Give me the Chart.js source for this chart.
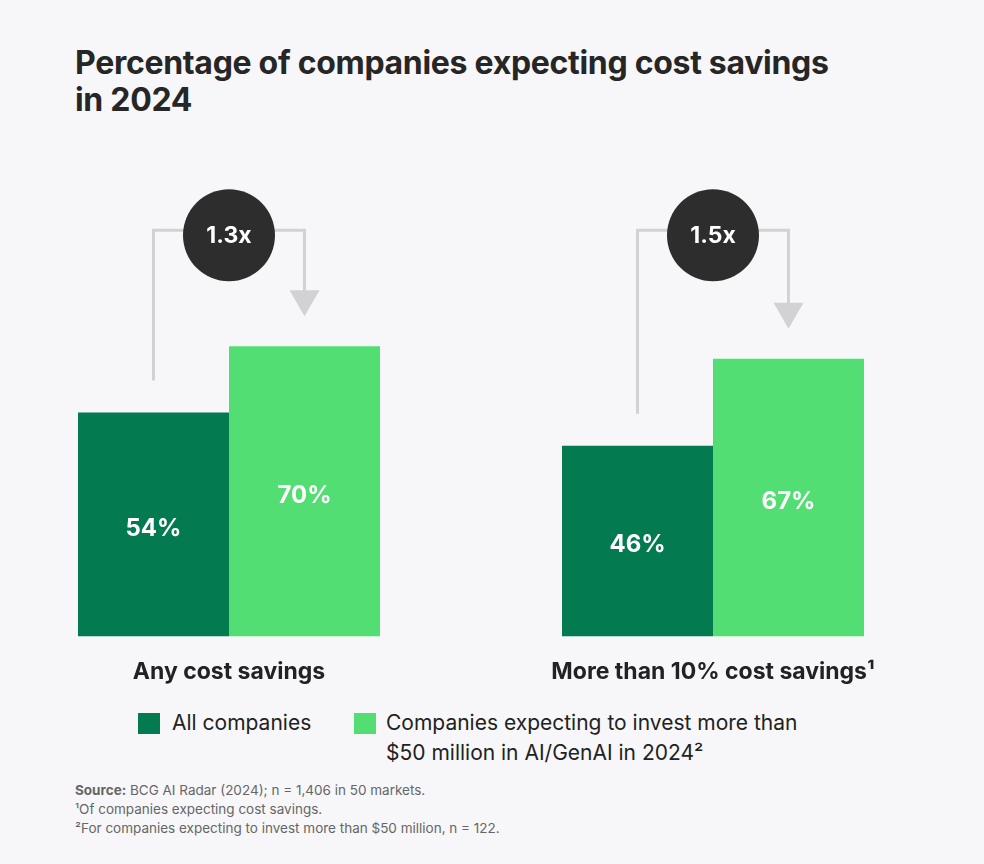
<!DOCTYPE html>
<html><head><meta charset="utf-8">
<script src="https://cdn.jsdelivr.net/npm/chart.js@4"></script>
<style>
body{margin:0;background:#f7f7f9;font-family:Inter,"Noto Sans",sans-serif;color:#222;width:984px;height:864px;position:relative;overflow:hidden}
h1{position:absolute;left:75px;top:44px;margin:0;font-size:32px;line-height:37px;font-weight:700;letter-spacing:-0.3px;color:#262626}
#wrap{position:absolute;left:-13px;top:180px;width:968px;height:520px}
.leg{position:absolute;font-size:21px;line-height:30px;color:#222}
.sw{position:absolute;width:22px;height:21px}
.fn{position:absolute;left:75px;font-size:13.5px;color:#666}
</style></head><body>
<h1>Percentage of companies expecting cost savings<br>in 2024</h1>
<div id="wrap"><canvas id="chart"></canvas></div>
<div class="sw" style="left:138px;top:713px;background:#037a50"></div>
<div class="leg" style="left:172px;top:708px">All companies</div>
<div class="sw" style="left:354px;top:713px;background:#52de72"></div>
<div class="leg" style="left:386px;top:708px">Companies expecting to invest more than<br>$50 million in AI/GenAI in 2024²</div>
<div class="fn" style="top:782px"><b>Source:</b> BCG AI Radar (2024); n = 1,406 in 50 markets.</div>
<div class="fn" style="top:801px">¹Of companies expecting cost savings.</div>
<div class="fn" style="top:820px">²For companies expecting to invest more than $50 million, n = 122.</div>
<script>
var categories = ['Any cost savings', 'More than 10% cost savings¹'];
var allCompanies = [54, 46];
var bigInvestors = [70, 67];
var multipliers = ['1.3x', '1.5x'];

var overlay = {
  id: 'overlay',
  afterDatasetsDraw: function(chart) {
    var ctx = chart.ctx, y = chart.scales.y;
    var top = y.getPixelForValue(98);
    chart.data.labels.forEach(function(lab, i) {
      var d0 = chart.getDatasetMeta(0).data[i], d1 = chart.getDatasetMeta(1).data[i];
      // value labels
      ctx.fillStyle = '#fff';
      ctx.font = 'bold 24px Inter, sans-serif';
      ctx.textAlign = 'center'; ctx.textBaseline = 'middle';
      [d0, d1].forEach(function(b, k) {
        var v = chart.data.datasets[k].data[i];
        ctx.fillText(v + '%', b.x, (b.y + b.base) / 2 + 4);
      });
      // bracket
      var startY = d0.y - 32, arrowTip = d1.y - 30;
      ctx.strokeStyle = '#d2d2d4'; ctx.lineWidth = 3;
      ctx.beginPath();
      ctx.moveTo(d0.x, startY); ctx.lineTo(d0.x, top); ctx.lineTo(d1.x, top); ctx.lineTo(d1.x, arrowTip - 24);
      ctx.stroke();
      ctx.fillStyle = '#d2d2d4';
      ctx.beginPath();
      ctx.moveTo(d1.x - 15, arrowTip - 26); ctx.lineTo(d1.x + 15, arrowTip - 26); ctx.lineTo(d1.x, arrowTip);
      ctx.closePath(); ctx.fill();
      // circle
      var cx = (d0.x + d1.x) / 2;
      ctx.fillStyle = '#2d2d2d';
      ctx.beginPath(); ctx.arc(cx, top + 5, 46, 0, Math.PI * 2); ctx.fill();
      ctx.fillStyle = '#fff'; ctx.font = 'bold 23px Inter, sans-serif';
      ctx.fillText(multipliers[i], cx, top + 6);
    });
  }
};

new Chart(document.getElementById('chart'), {
  type: 'bar',
  data: {
    labels: categories,
    datasets: [
      { label: 'All companies', data: allCompanies, backgroundColor: '#037a50' },
      { label: 'Companies expecting to invest more than $50 million in AI/GenAI in 2024²', data: bigInvestors, backgroundColor: '#52de72' }
    ]
  },
  options: {
    responsive: true, maintainAspectRatio: false, animation: false,
    layout: { padding: { top: 42, left: 0, right: 0, bottom: 0 } },
    plugins: { legend: { display: false }, tooltip: { enabled: false } },
    datasets: { bar: { categoryPercentage: 0.624, barPercentage: 1 } },
    scales: {
      x: { grid: { display: false }, border: { display: false },
        ticks: { color: '#222', font: { size: 23, weight: 'bold', family: 'Inter' }, padding: 14 } },
      y: { display: false, min: 0, max: 100 }
    }
  },
  plugins: [overlay]
});
</script>
</body></html>
